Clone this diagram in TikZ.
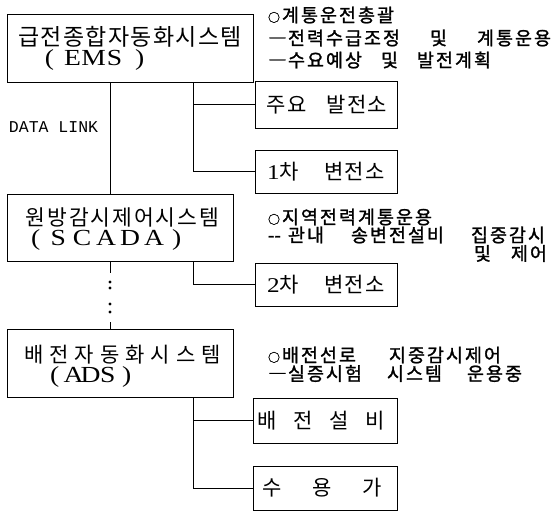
\documentclass[tikz,border=0pt]{standalone}
\usepackage{fontspec}
\usepackage{graphicx}
\usetikzlibrary{calc}
\newfontfamily\kr{Noto Sans CJK KR}
\newfontfamily\krb[FakeBold=1.3]{Noto Sans CJK KR}
\newfontfamily\lat[FakeStretch=1.2]{Liberation Serif}
\newfontfamily\mono{Liberation Mono}
\makeatletter
\newcommand\spr[2]{\@tfor\spr@c:=#2\do{\makebox[#1][c]{\spr@c}}}
\makeatother
\newcommand\bul{\makebox[13pt][l]{\fontsize{12pt}{12pt}\selectfont ○}}
\tikzset{
  box/.style={draw, line width=0.9pt, inner sep=0pt, outer sep=0pt, anchor=north west},
  conn/.style={line width=0.9pt},
  txt/.style={inner sep=0pt, outer sep=0pt},
  ann/.style={txt, anchor=west, font=\krb\fontsize{18.5pt}{22pt}\selectfont},
  title/.style={txt},
  abbr/.style={txt, anchor=west, font=\lat\fontsize{23pt}{26pt}\selectfont},
  small/.style={txt, anchor=west, font=\kr\fontsize{21pt}{24pt}\selectfont},
}
\begin{document}
\begin{tikzpicture}[x=1pt, y=-1pt]
\useasboundingbox (0,0) rectangle (555,512);
% columns
\coordinate (c1) at (110,0);
\coordinate (c2) at (193,0);
% main boxes
\node[box, minimum width=246pt, minimum height=68pt] (ems) at (7,14) {};
\node[box, minimum width=226pt, minimum height=67pt] (scada) at (7,194) {};
\node[box, minimum width=226pt, minimum height=68pt] (ads) at (7,329) {};
% side boxes
\node[box, minimum width=142pt, minimum height=47pt] (p1) at (255,81) {};
\node[box, minimum width=142pt, minimum height=43pt] (p2) at (255,150) {};
\node[box, minimum width=142pt, minimum height=43pt] (p3) at (255,263) {};
\node[box, minimum width=144pt, minimum height=45pt] (p4) at (253,398) {};
\node[box, minimum width=144pt, minimum height=44pt] (p5) at (253,466) {};
% box texts
\node[title, font=\kr\fontsize{23pt}{26pt}\selectfont] (t1) at (130,37) {\spr{22.5pt}{급전종합자동화시스템}};
\node[abbr] (t1b) at (45,60) {(\hspace{8pt}\spr{21pt}{EMS}\hspace{10pt})};
\node[title, font=\kr\fontsize{21.5pt}{24pt}\selectfont] (t2) at (122.5,217) {\spr{21.7pt}{원방감시제어시스템}};
\node[abbr] (t2b) at (31,240) {(\hspace{6pt}\spr{24pt}{SCADA}\hspace{6pt})};
\node[title, font=\kr\fontsize{21pt}{24pt}\selectfont] (t3) at (122.5,355) {\spr{25.3pt}{배전자동화시스템}};
\node[abbr] (t3b) at (50,377) {(\hspace{6pt}\spr{17pt}{ADS}\hspace{6pt})};
\node[small] (s1) at (266,104.5) {\spr{20.5pt}{주요}\hspace{19pt}\spr{20.5pt}{발전소}};
\node[small] (s2) at (267,171.5) {\makebox[12pt][l]{\lat 1}\spr{20.5pt}{차}\hspace{24pt}\spr{20.5pt}{변전소}};
\node[small] (s3) at (267,284.5) {\makebox[12pt][l]{\lat 2}\spr{20.5pt}{차}\hspace{24pt}\spr{20.5pt}{변전소}};
\node[small] (s4) at (249.5,420.5) {\spr{36pt}{배전설비}};
\node[small] (s5) at (247,488) {\spr{50pt}{수용가}};
% DATA LINK
\node[txt, anchor=west, font=\mono\fontsize{16.5pt}{20pt}\selectfont] (dl) at (9,127) {DATA LINK};
% annotations
\node[ann] (a1) at (268,15) {\bul\spr{19pt}{계통운전총괄}};
\node[ann] (a2) at (268,38) {\spr{19pt}{―전력수급조정}\hspace{28pt}\spr{19pt}{및}\hspace{28pt}\spr{19pt}{계통운용}};
\node[ann] (a3) at (268,60) {\spr{19pt}{―수요예상}\hspace{17pt}\spr{19pt}{및}\hspace{17pt}\spr{19pt}{발전계획}};
\node[ann] (b1) at (268,217) {\bul\spr{19pt}{지역전력계통운용}};
\node[ann] (b2) at (268,235) {\makebox[19pt][l]{-{}-}\spr{19pt}{관내}\hspace{25pt}\spr{19pt}{송변전설비}\hspace{25pt}\spr{19pt}{집중감시}};
\node[ann, anchor=east] (b3) at (548,253.5) {\spr{19pt}{및}\hspace{18pt}\spr{19pt}{제어}};
\node[ann] (d1) at (268,355) {\bul\spr{19pt}{배전선로}\hspace{31pt}\spr{19pt}{지중감시제어}};
\node[ann] (d2) at (268,373.5) {\spr{19pt}{―실증시험}\hspace{23pt}\spr{19pt}{시스템}\hspace{23pt}\spr{19pt}{운용중}};
% connectors
\draw[conn] (ems.south -| c1) -- (scada.north -| c1);
\draw[conn] (ems.south -| c2) |- (p1.west);
\draw[conn] (ems.south -| c2) |- (p2.west);
\draw[conn] (scada.south -| c2) |- (p3.west);
\draw[conn] (ads.south -| c2) |- (p4.west);
\draw[conn] (ads.south -| c2) |- (p5.west);
% dotted continuation
\draw[conn] (scada.south -| c1) -- ++(0,12) coordinate (dtop);
\coordinate (dbot) at ($(ads.north -| c1)+(0,-7)$);
\draw[conn] (ads.north -| c1) -- (dbot);
\foreach \yy in {282,288,304,312} \fill (110,\yy) circle (1.6pt);
\end{tikzpicture}
\end{document}
